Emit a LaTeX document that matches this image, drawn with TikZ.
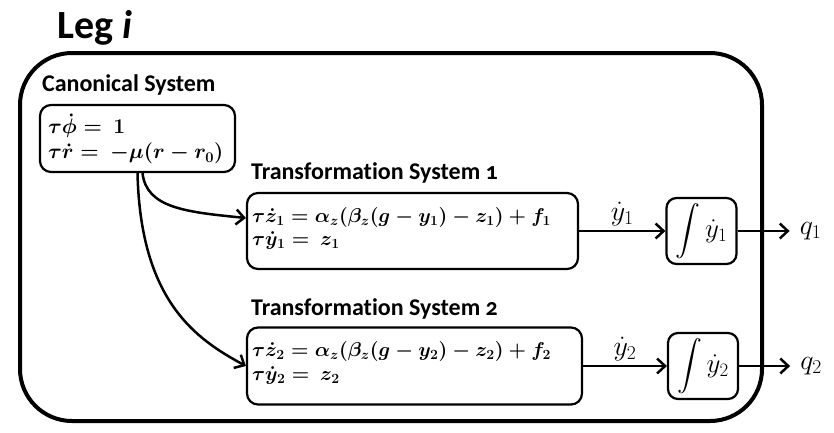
\RequirePackage{fix-cm}
\documentclass[tikz,border=0pt]{standalone}
\usepackage{fontspec}
\setmainfont{Carlito}[Ligatures=NoCommon]
\usepackage{amsmath}
\usetikzlibrary{arrows.meta,positioning}

\newcommand{\bigint}{{\fontsize{24}{24}\selectfont$\displaystyle\int$}\,}

\begin{document}
\begin{tikzpicture}[x=1pt,y=-1pt,
  every node/.style={inner sep=0pt},
  legframe/.style={draw,line width=4pt,rounded corners=52pt,minimum width=742pt,minimum height=368pt},
  sysbox/.style={draw,line width=2.2pt,rounded corners=11pt},
  intbox/.style={draw,line width=2.2pt,rounded corners=10pt,minimum width=70pt,minimum height=66pt,font=\fontsize{27}{30}\selectfont\mathversion{normal}},
  syslabel/.style={anchor=base west,font=\fontsize{24}{28}\selectfont\bfseries},
  eqs/.style={anchor=north west,align=left,font=\fontsize{20}{23.5}\selectfont\boldmath},
  outlbl/.style={font=\fontsize{28}{32}\selectfont\mathversion{normal}},
  arrow/.style={-{Straight Barb[length=8pt,width=15pt]},line width=2.5pt}
]
\useasboundingbox (0,0) rectangle (834,432);

% frame and title
\node[legframe] (leg) at (391,237) {};
\node[anchor=base west,font=\fontsize{40}{46}\selectfont\bfseries] (title) at (57,38) {Leg \textit{i}};

% canonical system
\node[sysbox,minimum width=195pt,minimum height=67pt] (canon) at (137.5,138.5) {};
\node[syslabel] (canonlbl) at ([xshift=3pt,yshift=12pt]canon.north west) {Canonical System};
\node[eqs,font=\fontsize{21}{25}\selectfont\boldmath] (canoneq) at ([xshift=9pt,yshift=-10pt]canon.north west) {$\tau\dot{\phi} =\ 1$\\ $\tau\dot{r} =\ -\mu(r-r_0)$};

% transformation systems
\node[sysbox,minimum width=331pt,minimum height=76pt] (ts1) at (412.5,231) {};
\node[syslabel] (ts1lbl) at ([xshift=5pt,yshift=12pt]ts1.north west) {Transformation System \addfontfeatures{Numbers=OldStyle}1};
\node[eqs] (ts1eq) at ([xshift=6pt,yshift=-15pt]ts1.north west) {$\tau\dot{z}_1 = \alpha_z(\beta_z(g-y_1)-z_1)+f_1$\\ $\tau\dot{y}_1 =\ z_1$};

\node[sysbox,minimum width=335pt,minimum height=77pt] (ts2) at (414.5,366) {};
\node[syslabel] (ts2lbl) at ([xshift=5pt,yshift=11pt]ts2.north west) {Transformation System \addfontfeatures{Numbers=OldStyle}2};
\node[eqs] (ts2eq) at ([xshift=6pt,yshift=-15pt]ts2.north west) {$\tau\dot{z}_2 = \alpha_z(\beta_z(g-y_2)-z_2)+f_2$\\ $\tau\dot{y}_2 =\ z_2$};

% integrators
\node[intbox] (int1) at (701.5,231) {\bigint$\dot{y}_1$};
\node[intbox] (int2) at (703,366) {\bigint$\dot{y}_2$};
\node[outlbl,right=62pt of int1] (q1) {$q_1$};
\node[outlbl,right=61pt of int2] (q2) {$q_2$};

% connectors
\draw[arrow] ([xshift=5pt]canon.south) .. controls +(4,35) and +(-60,-6) .. ([yshift=13pt]ts1.west);
\draw[arrow] (canon.south) .. controls +(3,128) and +(-50,-27) .. (ts2.west);
\draw[arrow] (ts1.east) -- (int1.west) node[outlbl,midway,above=4pt] {$\dot{y}_1$};
\draw[arrow] (ts2.east) -- (int2.west) node[outlbl,midway,above=4pt] {$\dot{y}_2$};
\draw[arrow] (int1.east) -- ([xshift=-10pt]q1.west);
\draw[arrow] (int2.east) -- ([xshift=-10pt]q2.west);
\end{tikzpicture}
\end{document}
